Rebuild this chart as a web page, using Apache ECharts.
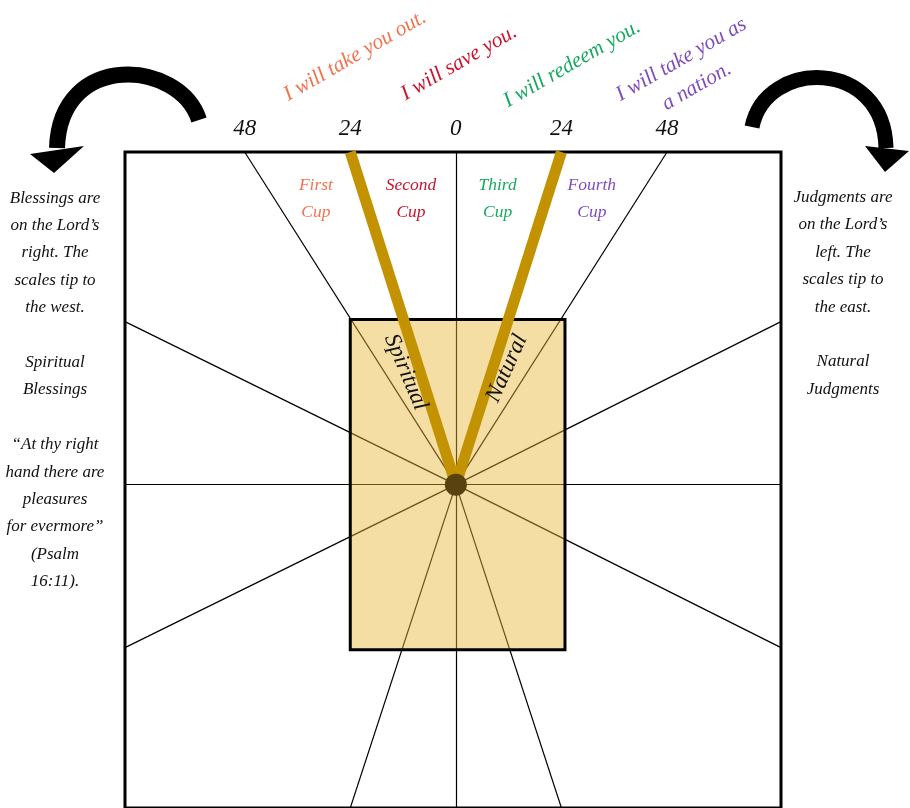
<!DOCTYPE html>
<html>
<head>
<meta charset="utf-8">
<script src="https://cdn.jsdelivr.net/npm/echarts@6/dist/echarts.min.js"></script>
<style>
    html, body { margin: 0; padding: 0; background: #fff; }
    #chart { width: 910px; height: 808px; }
</style>
</head>
<body>
<div id="chart"></div>
<script>
// 刻度 (top scale)
var topTicks = [-48, -24, 0, 24, 48]
var xMin = -75.2
var xMax = 73.9
var yMin = -73.4
var yMax = 75.5
// 线 (spoke end points, pivot is 0,0)
var spokeEnds = [
    [-48, yMax], [0, yMax], [48, yMax],
    [xMin, 37], [xMin, 0], [xMin, -37],
    [xMax, 37], [xMax, 0], [xMax, -37],
    [-24, yMin], [0, yMin], [24, yMin]
]
var armEnds = [[-24, yMax], [24, yMax]]
var pivot = [[0, 0]]
var altar = [[-24, 37.5, 24.8, -37.5]]
// 杯
var cupNames = ['First\nCup', 'Second\nCup', 'Third\nCup', 'Fourth\nCup']
var cupX = [-31.8, -10.2, 9.5, 30.9]
var cupY = 64.8
var armNames = ['Spiritual', 'Natural']
var armLabelPos = [[-11.4, 25.5], [11.6, 26.4]]
var promises = ['I will take you out.', 'I will save you.', 'I will redeem you.', 'I will take you as\na nation.']
var leftNote = ['Blessings are', 'on the Lord\u2019s', 'right. The', 'scales tip to', 'the west.', '',
    'Spiritual', 'Blessings', '', '\u201cAt thy right', 'hand there are', 'pleasures', 'for evermore\u201d', '(Psalm', '16:11).']
var rightNote = ['Judgments are', 'on the Lord\u2019s', 'left. The', 'scales tip to', 'the east.', '',
    'Natural', 'Judgments']

var cupColors = ['#f2734e', '#c8142e', '#1aa860', '#7e4cc0']
var font = '"Liberation Serif", "DejaVu Serif", serif'

var chart = echarts.init(document.getElementById('chart'))

function textEl (x, y, text, color, size, rot, lh) {
    return {
        type: 'text',
        x: x,
        y: y,
        rotation: (rot || 0) * Math.PI / 180,
        z: 10,
        style: {
            text: text,
            fill: color,
            fontSize: size,
            fontFamily: font,
            fontStyle: 'italic',
            align: 'center',
            verticalAlign: 'middle',
            lineHeight: lh || size * 1.2
        }
    }
}

var promisePos = [[355, 56], [459, 63], [572, 64], [689, 73]]
var graphic = promises.map(function (t, i) {
    return textEl(promisePos[i][0], promisePos[i][1], t, cupColors[i], 21.5, 30, 31)
})
graphic.push(textEl(55, 390, leftNote.join('\n'), '#111', 17, 0, 27.4))
graphic.push(textEl(843, 293.5, rightNote.join('\n'), '#111', 17, 0, 27.4))
// 箭头
graphic.push({
    type: 'bezierCurve',
    shape: { x1: 199, y1: 120, cpx1: 180, cpy1: 60, cpx2: 60, cpy2: 50, x2: 57, y2: 148 },
    style: { stroke: '#000', lineWidth: 16, fill: null }
})
graphic.push({
    type: 'polygon',
    shape: { points: [[30, 154], [84, 146], [54, 173]] },
    style: { fill: '#000' }
})
graphic.push({
    type: 'bezierCurve',
    shape: { x1: 752, y1: 127, cpx1: 766, cpy1: 58, cpx2: 884, cpy2: 58, x2: 886, y2: 148 },
    style: { stroke: '#000', lineWidth: 15, fill: null }
})
graphic.push({
    type: 'polygon',
    shape: { points: [[865, 146], [909, 151], [885, 172]] },
    style: { fill: '#000' }
})

var option = {
    animation: false,
    backgroundColor: '#fff',
    grid: {
        left: 125,
        right: 129,
        top: 152,
        bottom: 0,
        show: true,
        borderColor: '#000',
        borderWidth: 3,
        backgroundColor: 'transparent'
    },
    xAxis: {
        type: 'value',
        position: 'top',
        min: xMin,
        max: xMax,
        axisLine: { show: false },
        axisTick: { show: false },
        splitLine: { show: false },
        axisLabel: {
            customValues: topTicks,
            formatter: function (v) { return String(Math.abs(v)) },
            fontSize: 23,
            fontStyle: 'italic',
            fontFamily: font,
            color: '#111',
            margin: 12
        }
    },
    yAxis: {
        type: 'value',
        show: false,
        min: yMin,
        max: yMax
    },
    graphic: graphic,
    series: [{
        type: 'lines',
        coordinateSystem: 'cartesian2d',
        z: 2,
        silent: true,
        lineStyle: { color: '#000', width: 1.2, opacity: 1 },
        data: spokeEnds.map(function (e) { return { coords: [[0, 0], e] } })
    }, {
        type: 'custom',
        z: 3,
        silent: true,
        encode: { x: [0, 2], y: [1, 3] },
        data: altar,
        renderItem: function (params, api) {
            var p1 = api.coord([api.value(0), api.value(1)])
            var p2 = api.coord([api.value(2), api.value(3)])
            return {
                type: 'rect',
                shape: { x: p1[0], y: p1[1], width: p2[0] - p1[0], height: p2[1] - p1[1] },
                style: { fill: 'rgba(232,182,52,0.45)', stroke: '#000', lineWidth: 3 }
            }
        }
    }, {
        type: 'lines',
        coordinateSystem: 'cartesian2d',
        z: 4,
        silent: true,
        lineStyle: { color: '#c39200', width: 11, opacity: 1, cap: 'butt' },
        data: armEnds.map(function (e) { return { coords: [[0, 0], e] } })
    }, {
        type: 'scatter',
        z: 5,
        silent: true,
        symbolSize: 22,
        itemStyle: { color: '#5a4210', opacity: 1 },
        data: pivot
    }, {
        type: 'scatter',
        z: 6,
        silent: true,
        symbolSize: 0,
        itemStyle: { opacity: 1 },
        data: cupNames.map(function (n, i) {
            return {
                value: [cupX[i], cupY],
                label: {
                    show: true,
                    position: 'inside',
                    formatter: n,
                    color: cupColors[i],
                    fontSize: 17.5,
                    fontStyle: 'italic',
                    fontFamily: font,
                    lineHeight: 27
                }
            }
        })
    }, {
        type: 'scatter',
        z: 6,
        silent: true,
        symbolSize: 0,
        itemStyle: { opacity: 1 },
        data: armNames.map(function (n, i) {
            return {
                value: armLabelPos[i],
                label: {
                    show: true,
                    position: 'inside',
                    formatter: n,
                    rotate: i === 0 ? -67 : 66,
                    color: '#111',
                    fontSize: 23,
                    fontStyle: 'italic',
                    fontFamily: font
                }
            }
        })
    }]
}
chart.setOption(option)
</script>
</body>
</html>
